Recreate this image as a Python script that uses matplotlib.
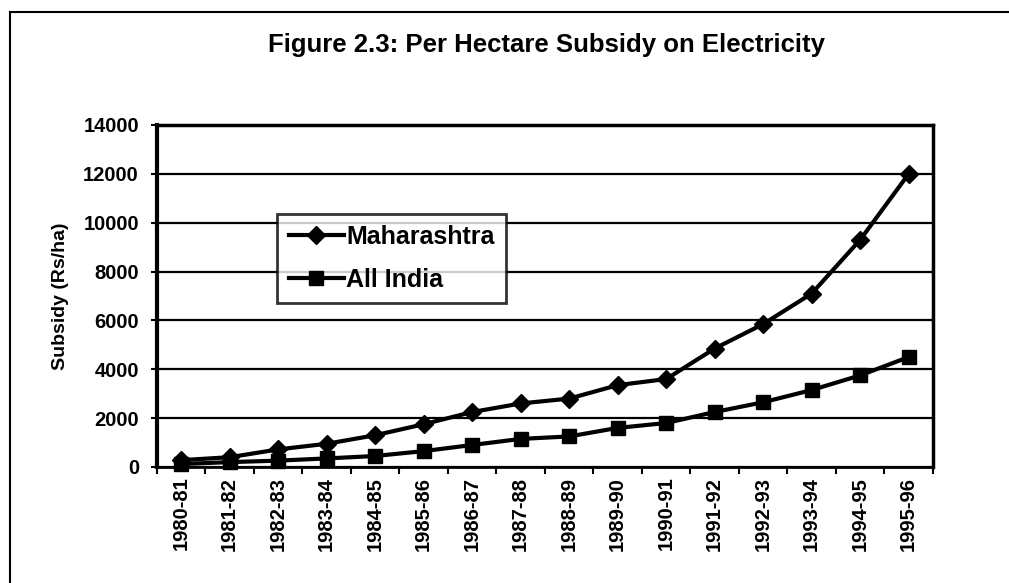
import numpy as np
import matplotlib
matplotlib.use("Agg")
import matplotlib.pyplot as plt
from matplotlib.lines import Line2D

years = ["1980-81", "1981-82", "1982-83", "1983-84", "1984-85", "1985-86",
         "1986-87", "1987-88", "1988-89", "1989-90", "1990-91", "1991-92",
         "1992-93", "1993-94", "1994-95", "1995-96"]
maharashtra = [280, 400, 720, 950, 1300, 1750, 2250, 2600, 2800, 3350,
               3600, 4850, 5850, 7100, 9300, 12000]
all_india = [120, 200, 260, 350, 450, 650, 900, 1150, 1250, 1600,
             1800, 2250, 2650, 3150, 3750, 4500]
yticks = [0, 2000, 4000, 6000, 8000, 10000, 12000, 14000]

plt.rcParams['font.family'] = ['Liberation Sans', 'DejaVu Sans']

fig = plt.figure(figsize=(10.09, 5.83), dpi=100)
ax = fig.add_axes([0.1556, 0.199, 0.769, 0.5866])

x = np.arange(len(years)) + 0.5
ax.plot(x, maharashtra, color='black', lw=3, marker='D', ms=9.5,
        label='Maharashtra', clip_on=False, zorder=3)
ax.plot(x, all_india, color='black', lw=3, marker='s', ms=10.5,
        label='All India', clip_on=False, zorder=3)

ax.set_xlim(0, len(years))
ax.set_ylim(0, 14000)
ax.set_yticks(yticks)
ax.set_yticklabels([str(v) for v in yticks], fontsize=14.5, fontweight='bold')
ax.set_xticks(np.arange(len(years) + 1))
ax.set_xticklabels([])
ax.set_xticks(x, minor=True)
ax.set_xticklabels(years, minor=True, rotation=90, fontsize=14.5,
                   fontweight='bold')
ax.tick_params(axis='x', which='minor', length=0, pad=7)
ax.tick_params(axis='x', which='major', length=5, width=1.5, direction='out')
ax.tick_params(axis='y', length=4, width=1.5, direction='out', pad=9)

ax.grid(axis='y', color='black', lw=1.6)
ax.set_axisbelow(True)
for side, w in [('left', 3), ('right', 2.5), ('top', 2.5), ('bottom', 2)]:
    ax.spines[side].set_linewidth(w)

ax.set_ylabel('Subsidy (Rs/ha)', fontsize=14, fontweight='bold', labelpad=10)

leg = ax.legend(loc='upper left', bbox_to_anchor=(0.155, 0.74),
                fontsize=18, frameon=True, fancybox=False, edgecolor='black',
                handlelength=2.2, handletextpad=0.1, borderpad=0.45,
                labelspacing=0.75, borderaxespad=0)
leg.get_frame().set_linewidth(2)
for t in leg.get_texts():
    t.set_fontweight('bold')

fig.text(0.542, 0.922, 'Figure 2.3: Per Hectare Subsidy on Electricity',
         ha='center', va='center', fontsize=18.5, fontweight='bold')

# scanned page frame (top and left edges)
fig.add_artist(Line2D([0.01, 1.0], [0.979, 0.979], transform=fig.transFigure,
                      color='black', lw=1.5))
fig.add_artist(Line2D([0.01, 0.01], [0.0, 0.979], transform=fig.transFigure,
                      color='black', lw=1.5))

fig.savefig('out.png', dpi=100)
